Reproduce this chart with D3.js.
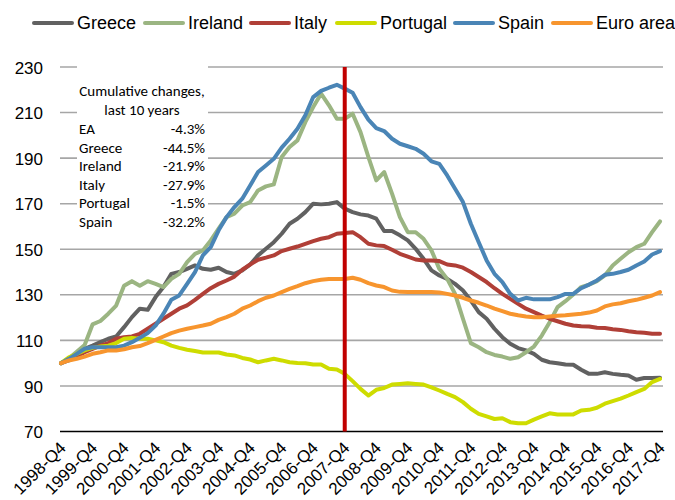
<!DOCTYPE html>
<html>
<head>
<meta charset="utf-8">
<script src="https://cdn.jsdelivr.net/npm/d3@7"></script>
<style>
  html, body { margin: 0; padding: 0; background: #fff; }
  svg { display: block; }
</style>
</head>
<body>
<svg id="chart" width="675" height="500"></svg>
<script>
// ---- data ----
const tickLabels = ["1998-Q4","1999-Q4","2000-Q4","2001-Q4","2002-Q4","2003-Q4","2004-Q4","2005-Q4","2006-Q4","2007-Q4","2008-Q4","2009-Q4","2010-Q4","2011-Q4","2012-Q4","2013-Q4","2014-Q4","2015-Q4","2016-Q4","2017-Q4"];
const quarters = [];
for (let yr = 1998; yr <= 2017; yr++) {
  for (let q = 1; q <= 4; q++) {
    if (yr === 1998 && q < 4) continue;
    quarters.push(yr + "-Q" + q);
  }
}
const yTicks = [70, 90, 110, 130, 150, 170, 190, 210, 230];
const seriesNames = ["Greece", "Ireland", "Italy", "Portugal", "Spain", "Euro area"];
const seriesColors = ["#616161", "#9BB582", "#B03F37", "#CEDC00", "#4A85B6", "#F7952E"];

const greece = [100,101.2,103.4,106.3,107.7,109.2,110.7,111.7,115.8,120.2,
 123.9,123.4,129,133.4,139.2,140,141.4,142.9,141.4,141,
 141.9,140,139.2,140.7,143.3,147.3,150.2,153.1,156.8,161.2,
 163.4,166.3,170,169.7,170,170.7,167.8,166.3,165.3,164.8,
 163.4,158,158,156.1,153.9,150.2,145.8,140.7,138.5,137,
 134.8,131.9,127.5,122.4,119.5,115.1,111.4,108.5,106.6,105.6,
 104.1,101.5,100.4,100,99.4,99.3,97.1,95.3,95.3,96,
 95.3,94.9,94.6,92.7,93.5,93.5,93.6];
const ireland = [100,102,105,108,117,118.5,121.7,125.3,134,136,
 134,136,134.8,133.4,137,139.2,144.3,148,149.5,153.9,
 159,164.1,165.6,169.2,170.7,175.8,177.6,178.5,190.5,194.9,
 197.8,205.8,212.4,218.3,213.2,207.3,207.3,209.5,201.4,190.5,
 180.2,183.9,174.4,164.1,157.5,157.5,154.6,149.5,141.4,137,
 130.4,119.5,108.8,107,104.8,103.6,102.9,101.9,102.6,104.8,
 107.3,112.1,118,124.6,127.2,130.1,133.4,134.5,136,138.5,
 142.9,145.8,148.7,150.9,152.4,157.5,162.2];
const italy = [100,101.6,103.1,104.8,106.3,107.7,108.8,110.7,111.4,111.7,
 112.9,115.1,117.3,119.5,121.7,123.9,125.4,127.8,130.4,132.9,
 134.8,136.3,138,141,143.3,145.4,146.3,147.3,149.2,150.2,
 151.2,152.4,153.6,154.6,155.3,156.8,157.1,157.5,155.3,152.4,
 151.7,151.4,149.8,148,146.8,145.5,145.1,145.1,144.8,143.3,
 142.9,141.9,140,137.8,135.6,132.9,130.4,128.2,126,123.9,
 122.4,120.9,119.5,118.4,117.3,116.5,116.2,116.1,115.5,115.4,
 114.9,114.6,114,113.6,113.3,112.9,112.9];
const portugal = [100,102.6,104.1,105.6,106.7,107.3,107.7,108.8,110.7,111.1,
 110.7,110.7,110,109.2,107.7,106.7,105.9,105.3,104.7,104.7,
 104.7,103.8,103.4,102.3,101.6,100.4,101.2,101.9,101.2,100.4,
 100.1,100,99.4,99.4,97.5,97.2,95.3,92.1,88.7,85.8,
 88.3,89.1,90.6,90.9,91.2,90.9,90.6,89.4,88,86.5,
 85.1,82.9,80,77.7,76.6,75.5,75.8,74.1,73.6,73.6,
 75.2,76.6,78,77.5,77.5,77.5,79.2,79.5,80.4,82.2,
 83.3,84.4,85.8,87.3,88.7,91.7,93.1];
const spain = [100,101.9,104.1,106.3,107,107,107,107,107.7,109.2,
 111.1,113.2,116.5,121.7,127.8,129.7,134.8,140,147.3,150.9,
 158.3,164.1,168.5,172.2,178,183.9,186.8,189.7,194.6,198.5,
 202.9,208.8,216.8,219.5,220.9,222.2,220.5,218.7,212.4,206.9,
 203.2,201.9,198.5,196.3,195.2,194.1,191.9,188.6,187.5,182.4,
 176.6,170.7,161.2,153.1,145.1,139.2,135.6,130.4,127.5,128.7,
 128,128,128,129,130.4,130.4,132.9,134.5,136.3,138.8,
 139.2,140,141,142.9,144.6,147.7,149.2];
const euroArea = [100,101.2,101.9,102.9,104.1,104.8,105.6,105.6,106.1,107,
 107.5,108.8,110.2,111.7,113.2,114.3,115.1,115.8,116.5,117.3,
 119,120.2,121.7,123.9,125.3,127.2,128.7,129.7,131.2,132.6,
 133.8,135.1,136,136.6,136.9,136.9,136.9,137.5,136.6,135.1,
 134.1,133.4,131.9,131.3,131.2,131.2,131.2,131.2,131,130.4,
 129.7,128.7,127.5,126.5,125.3,123.9,122.8,121.7,121,120.5,
 120.2,120.2,120.5,120.8,121,121.4,121.7,122.2,123.1,124.9,
 125.8,126.3,127.2,127.8,128.7,129.7,131.2];
const seriesValues = [greece, ireland, italy, portugal, spain, euroArea];

const markerQuarter = "2007-Q4";
const noteTitle = ["Cumulative changes,", "last 10 years"];
const noteLabels = ["EA", "Greece", "Ireland", "Italy", "Portugal", "Spain"];
const noteValues = ["-4.3%", "-44.5%", "-21.9%", "-27.9%", "-1.5%", "-32.2%"];

// ---- drawing ----
const svg = d3.select("#chart");
const font = "'Liberation Sans', Arial, sans-serif";
const noteFont = "Carlito, Calibri, Lato, 'Open Sans', sans-serif";

const x = d3.scalePoint().domain(quarters).range([61, 660]);
const y = d3.scaleLinear().domain([70, 230]).range([431.5, 67]);

// gridlines
svg.append("g").selectAll("line").data(yTicks.filter(v => v > 70)).join("line")
  .attr("x1", 60).attr("x2", 663)
  .attr("y1", d => y(d)).attr("y2", d => y(d))
  .attr("stroke", "#A6A6A6").attr("stroke-width", 1.6);

// y axis labels
const yAxis = d3.axisLeft(y).tickValues(yTicks).tickSize(0).tickPadding(0);
const yg = svg.append("g").attr("transform", "translate(43,0)").call(yAxis);
yg.select(".domain").remove();
yg.selectAll("text").attr("font-family", font).attr("font-size", 17).attr("fill", "#000").attr("dy", "0.36em");

// bottom axis line
svg.append("line").attr("x1", 60).attr("x2", 663).attr("y1", y(70)).attr("y2", y(70))
  .attr("stroke", "#000").attr("stroke-width", 1.5);

// x labels
const xAxis = d3.axisBottom(x).tickValues(tickLabels).tickSize(0).tickPadding(0);
const xg = svg.append("g").call(xAxis);
xg.select(".domain").remove();
xg.selectAll(".tick").attr("transform", d => `translate(${x(d) + 6},449)`);
xg.selectAll("text")
  .attr("font-family", font).attr("font-size", 17).attr("fill", "#000")
  .attr("text-anchor", "end").attr("dy", 0).attr("y", 0)
  .attr("transform", "rotate(-45)");

// annotation box
svg.append("rect").attr("x", 77).attr("y", 62).attr("width", 131).attr("height", 172).attr("fill", "#fff");
const note = svg.append("g").attr("font-family", noteFont).attr("font-size", 15).attr("fill", "#000");
note.selectAll("text.t").data(noteTitle).join("text").attr("class", "t")
  .attr("x", 142).attr("y", (d, i) => 96 + i * 19).attr("text-anchor", "middle").text(d => d);
note.selectAll("text.l").data(noteLabels).join("text").attr("class", "l")
  .attr("x", 79).attr("y", (d, i) => 134 + i * 18.6).text(d => d);
note.selectAll("text.v").data(noteValues).join("text").attr("class", "v")
  .attr("x", 205).attr("y", (d, i) => 134 + i * 18.6).attr("text-anchor", "end").text(d => d);

// lines
const line = d3.line().x((d, i) => x(quarters[i])).y(d => y(d)).curve(d3.curveLinear);
svg.append("g").selectAll("path").data(seriesValues).join("path")
  .attr("d", d => line(d))
  .attr("fill", "none")
  .attr("stroke", (d, i) => seriesColors[i])
  .attr("stroke-width", 4)
  .attr("stroke-linejoin", "round")
  .attr("stroke-linecap", "round");

// vertical marker
svg.append("line")
  .attr("x1", x(markerQuarter)).attr("x2", x(markerQuarter))
  .attr("y1", y(230)).attr("y2", y(70))
  .attr("stroke", "#C00000").attr("stroke-width", 4);

// legend
const legendX = [32, 143, 249, 335, 453, 551];
const lg = svg.append("g");
seriesNames.forEach((name, i) => {
  const g = lg.append("g").attr("transform", `translate(${legendX[i]},23)`);
  g.append("line").attr("x1", 2).attr("x2", 40).attr("y1", 0).attr("y2", 0)
    .attr("stroke", seriesColors[i]).attr("stroke-width", 4).attr("stroke-linecap", "round");
  g.append("text").attr("x", 45).attr("y", 0).attr("dy", "0.36em")
    .attr("font-family", font).attr("font-size", 18).attr("fill", "#000").text(name);
});
</script>
</body>
</html>
